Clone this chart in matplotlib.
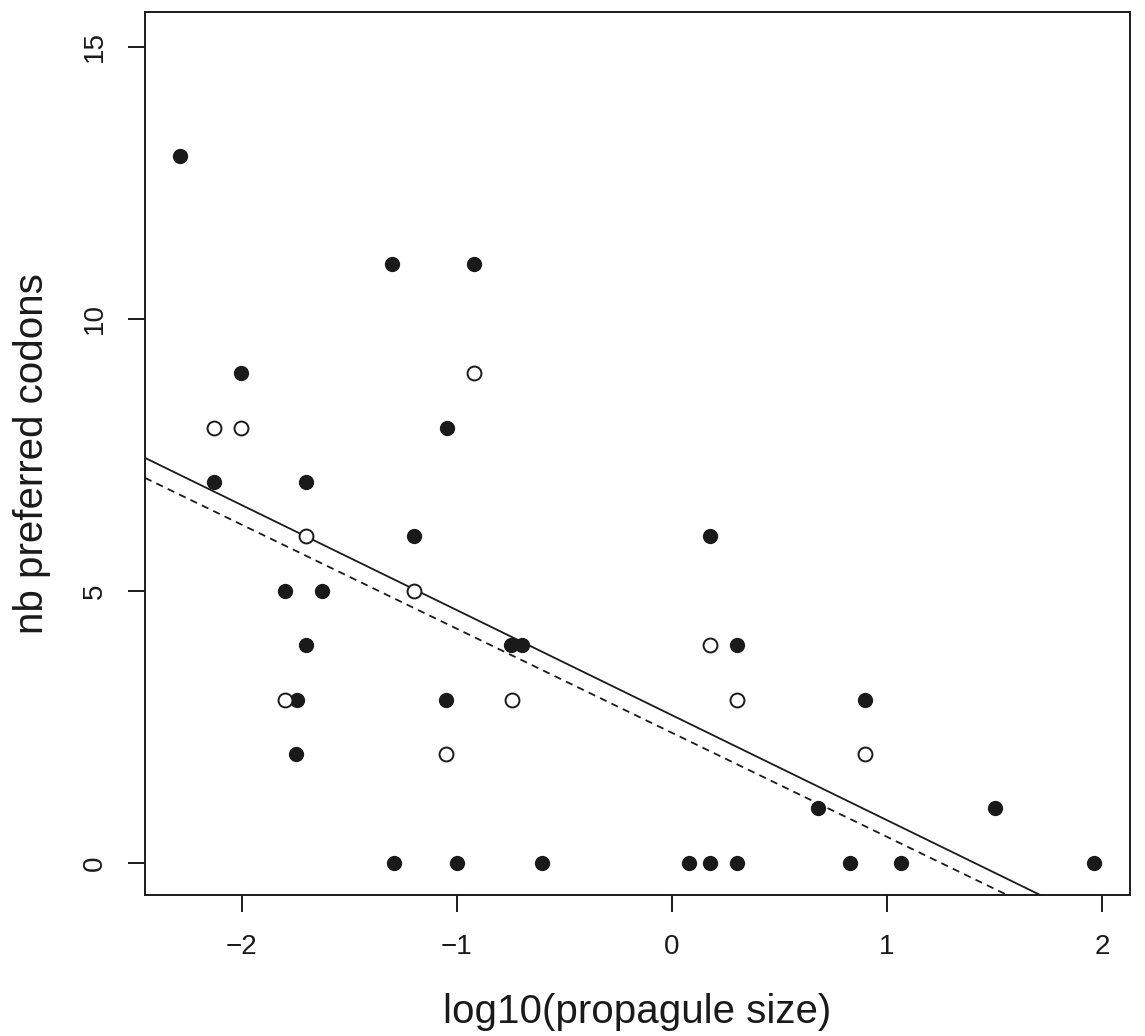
import matplotlib.pyplot as plt

# filled points: log10(propagule size) vs nb preferred codons
x_filled = [-2.288, -1.302, -0.921, -2.005, -1.047, -2.130, -1.702, -1.200, 0.177,
            -1.800, -1.628, -1.702, -0.749, -0.698, 0.302, -1.744, -1.051, 0.898,
            -1.749, 0.679, 1.502, -1.293, -1.000, -0.605, 0.079, 0.177, 0.302,
            0.828, 1.065, 1.963]
y_filled = [13, 11, 11, 9, 8, 7, 7, 6, 6,
            5, 5, 4, 4, 4, 4, 3, 3, 3,
            2, 1, 1, 0, 0, 0, 0, 0, 0,
            0, 0, 0]

# open points
x_open = [-2.130, -2.005, -0.921, -1.702, -1.200, 0.177, -1.800, -0.744, 0.302, -1.051, 0.898]
y_open = [8, 8, 9, 6, 5, 4, 3, 3, 3, 2, 2]

# regression lines (intercept, slope)
fit_solid = (2.715, -1.930)
fit_dashed = (2.391, -1.912)

plt.rcParams['font.family'] = ['Liberation Sans', 'DejaVu Sans']

fig = plt.figure(figsize=(11.45, 10.36), dpi=100)
ax = fig.add_axes([0.1266, 0.1361, 0.8603, 0.8523])

ax.plot(x_filled, y_filled, 'o', color='#1a1a1a', markersize=11, markeredgewidth=0, zorder=3)
ax.plot(x_open, y_open, 'o', markerfacecolor='white', markeredgecolor='#1a1a1a',
        markersize=10, markeredgewidth=1.4, zorder=3)

xl = (-2.451, 2.130)
a, b = fit_solid
ax.plot(xl, [a + b * xl[0], a + b * xl[1]], color='#1a1a1a', lw=1.3)
a, b = fit_dashed
ax.plot(xl, [a + b * xl[0], a + b * xl[1]], color='#1a1a1a', lw=1.3, ls=(0, (4, 3)))

ax.set_xlim(xl)
ax.set_ylim(-0.59, 15.64)
ax.set_xticks([-2, -1, 0, 1, 2])
ax.set_xticklabels(['\u22122', '\u22121', '0', '1', '2'])
ax.set_yticks([0, 5, 10, 15])
ax.set_yticklabels(['0', '5', '10', '15'], rotation=90, va='center')

for s in ax.spines.values():
    s.set_linewidth(1.4)
    s.set_color('#1a1a1a')
ax.tick_params(length=12, width=1.4, color='#1a1a1a', labelsize=20, labelcolor='#1a1a1a')
ax.tick_params(axis='x', pad=16)
ax.tick_params(axis='y', pad=15)

ax.set_xlabel('log10(propagule size)', fontsize=29, color='#1a1a1a', labelpad=24)
ax.set_ylabel('nb preferred codons', fontsize=29, color='#1a1a1a', labelpad=22)

fig.savefig('out.png', dpi=100)
